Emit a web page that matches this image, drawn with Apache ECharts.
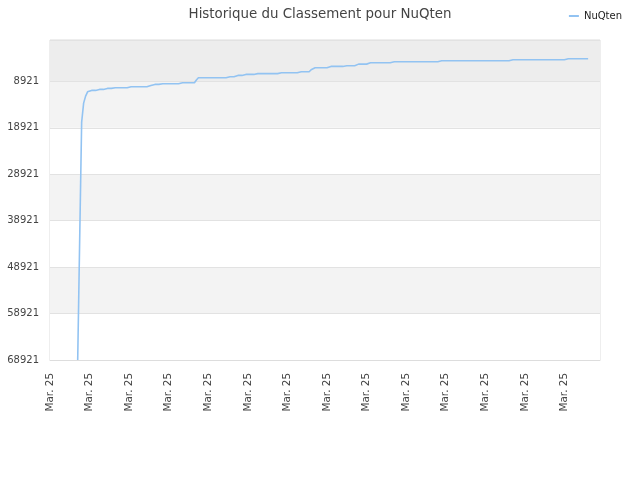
<!DOCTYPE html>
<html>
<head>
<meta charset="utf-8">
<title>Historique du Classement pour NuQten</title>
<script src="https://cdn.jsdelivr.net/npm/echarts@6/dist/echarts.min.js"></script>
<style>
  html, body { margin: 0; padding: 0; background: #fff; }
  #chart { width: 640px; height: 480px; }
</style>
</head>
<body>
<div id="chart"></div>
<script>
// Rank history (lower is better), one value per sample, null = no data
const ranks = [
    null, null, null, null, null, null, null, null, null, null, null, null, null, null, 68921, 43090, 17684, 13593, 12086, 11160,
    11160, 10859, 10859, 10859, 10859, 10643, 10643, 10643, 10428, 10428, 10428, 10428, 10299, 10299, 10299, 10299, 10299, 10299, 10299, 10299,
    10299, 10084, 10084, 10084, 10084, 10084, 10084, 10084, 10084, 10084, 9782, 9782, 9782, 9567, 9567, 9567, 9567, 9438, 9438, 9438,
    9438, 9438, 9438, 9438, 9438, 9438, 9438, 9222, 9222, 9222, 9222, 9222, 9222, 9222, 8600, 8146, 8146, 8146, 8146, 8146,
    8146, 8146, 8146, 8146, 8146, 8146, 8146, 8146, 8146, 8146, 8146, 7931, 7931, 7931, 7931, 7629, 7629, 7629, 7414, 7414,
    7414, 7414, 7414, 7414, 7414, 7242, 7242, 7242, 7242, 7242, 7242, 7242, 7242, 7242, 7242, 7242, 7069, 7069, 7069, 7069,
    7069, 7069, 7069, 7069, 7069, 7069, 7069, 6854, 6854, 6854, 6854, 6854, 6400, 5993, 5993, 5993, 5993, 5993, 5993, 5993,
    5993, 5692, 5692, 5692, 5692, 5692, 5692, 5692, 5692, 5692, 5562, 5562, 5562, 5562, 5562, 5196, 5196, 5196, 5196, 5196,
    5196, 5196, 4916, 4916, 4916, 4916, 4916, 4916, 4916, 4916, 4916, 4916, 4916, 4701, 4701, 4701, 4701, 4701, 4701, 4701,
    4701, 4701, 4701, 4701, 4701, 4701, 4701, 4701, 4701, 4701, 4701, 4701, 4701, 4701, 4701, 4701, 4701, 4486, 4486, 4486,
    4486, 4486, 4486, 4486, 4486, 4486, 4486, 4486, 4486, 4486, 4486, 4486, 4486, 4486, 4486, 4486, 4486, 4486, 4486, 4486,
    4486, 4486, 4486, 4486, 4486, 4486, 4486, 4486, 4486, 4486, 4486, 4486, 4486, 4486, 4270, 4270, 4270, 4270, 4270, 4270,
    4270, 4270, 4270, 4270, 4270, 4270, 4270, 4270, 4270, 4270, 4270, 4270, 4270, 4270, 4270, 4270, 4270, 4270, 4270, 4270,
    4270, 4270, 4055, 4055, 4055, 4055, 4055, 4055, 4055, 4055, 4055, 4055, 4055, null, null, null, null, null, null
];

// every sample falls in the same month
const dates = new Array(ranks.length).fill('Mar. 25');

// rank axis: worst rank at the bottom, rank 1 at the top
const worstRank = 68921;
const bestRank = 1;
const rankStep = 10000;

const seriesName = 'NuQten';
const titleText = 'Historique du Classement pour NuQten';

function initChart() {
    const el = document.getElementById('chart');
    const chart = echarts.init(el);

    // plot distance from worst rank so ticks line up on 68921, 58921, ...
    const plotted = ranks.map(r => (r === null ? null : worstRank - r));

    const option = {
        backgroundColor: '#fff',
        animation: false,
        textStyle: { fontFamily: 'DejaVu Sans' },
        title: {
            text: titleText,
            left: 'center',
            top: 3,
            textStyle: {
                fontFamily: 'DejaVu Sans',
                fontSize: 13.4,
                fontWeight: 'normal',
                color: '#444'
            }
        },
        legend: {
            right: 13,
            top: 6,
            icon: 'rect',
            itemWidth: 10,
            itemHeight: 2,
            itemGap: 8,
            data: [seriesName],
            textStyle: {
                fontFamily: 'DejaVu Sans',
                fontSize: 10,
                color: '#222'
            }
        },
        grid: {
            left: 50,
            right: 40,
            top: 40,
            bottom: 120,
            show: true,
            borderColor: '#dddddd',
            borderWidth: 1
        },
        xAxis: {
            type: 'category',
            data: dates,
            boundaryGap: false,
            axisLine: { lineStyle: { color: '#dddddd' } },
            axisTick: { show: false },
            axisLabel: {
                interval: 19,
                rotate: 90,
                margin: 13,
                fontFamily: 'DejaVu Sans',
                fontSize: 10.4,
                color: '#444'
            },
            splitLine: { show: false }
        },
        yAxis: {
            type: 'value',
            min: 0,
            max: worstRank - bestRank,
            interval: rankStep,
            axisLine: { show: false },
            axisTick: { show: false },
            axisLabel: {
                showMaxLabel: false,
                margin: 11,
                fontFamily: 'DejaVu Sans',
                fontSize: 10,
                color: '#444',
                formatter: v => (v > worstRank - rankStep / 2 ? '' : String(worstRank - v))
            },
            splitLine: { lineStyle: { color: '#e2e2e2' } },
            splitArea: {
                show: true,
                areaStyle: {
                    color: ['#ffffff', '#f3f3f3', '#ffffff', '#f3f3f3', '#ffffff', '#f3f3f3', '#ededed']
                }
            }
        },
        series: [{
            name: seriesName,
            type: 'line',
            data: plotted,
            showSymbol: false,
            connectNulls: false,
            color: '#92c3f2',
            lineStyle: { width: 1.6, color: '#92c3f2' }
        }]
    };

    chart.setOption(option);
}

initChart();
</script>
</body>
</html>
